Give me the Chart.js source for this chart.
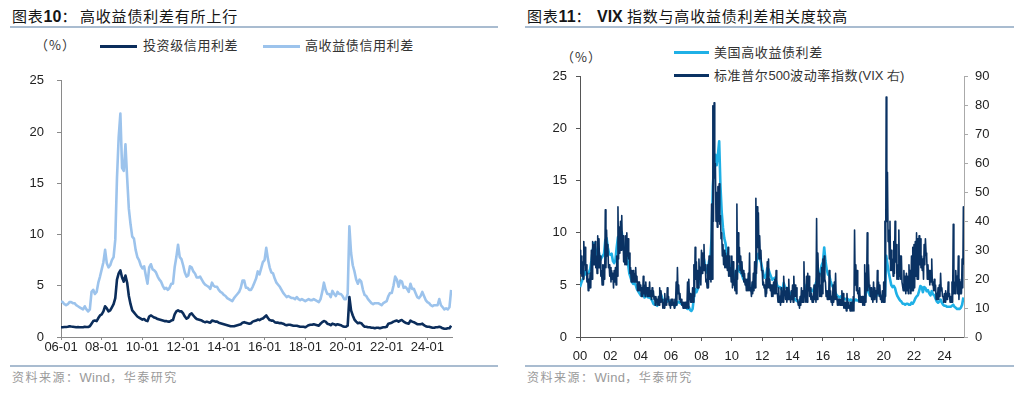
<!DOCTYPE html>
<html><head><meta charset="utf-8">
<script src="https://cdn.jsdelivr.net/npm/chart.js@4.4.1/dist/chart.umd.min.js"></script>
<style>
body{margin:0;width:1024px;height:394px;background:#fff;position:relative;overflow:hidden;font-family:"Noto Sans CJK SC","Liberation Sans",sans-serif;}
.abs{position:absolute;white-space:nowrap;}
.title{font-size:15px;color:#151515;letter-spacing:0.8px;top:6px;line-height:20px;}
.title b{font-family:"Liberation Sans",Arial,sans-serif;font-weight:bold;font-size:16px;letter-spacing:0;}
.rule{position:absolute;height:2px;background:#a9bcd0;}
.src{font-size:12px;color:#9a9a9a;top:369px;line-height:16px;letter-spacing:1.5px;}
.src span{font-family:"Liberation Sans",Arial,sans-serif;letter-spacing:0.3px;font-size:13px;}
.unit{font-size:13px;color:#333;line-height:16px;letter-spacing:1px;}
.leg{font-size:13px;color:#333;letter-spacing:0.6px;line-height:16px;}
.leg span{font-family:"Liberation Sans",Arial,sans-serif;letter-spacing:0;}
.sw{position:absolute;height:3px;}
canvas{position:absolute;}
</style></head>
<body>
<div class="abs title" style="left:12px">图表<b>10</b>：</div>
<div class="abs title" style="left:80px">高收益债利差有所上行</div>
<div class="rule" style="left:10px;top:26px;width:488px"></div>
<div class="abs title" style="left:527px">图表<b>11</b>：</div>
<div class="abs title" style="left:597px"><b>VIX</b> 指数与高收益债利差相关度较高</div>
<div class="rule" style="left:525px;top:26px;width:489px"></div>

<div class="abs unit" style="left:35px;top:37px">（%）</div>
<div class="sw" style="left:100px;top:45px;width:37px;background:#0b2d5b"></div>
<div class="abs leg" style="left:143px;top:37px">投资级信用利差</div>
<div class="sw" style="left:263px;top:45px;width:37px;background:#9cc3ec"></div>
<div class="abs leg" style="left:305px;top:37px">高收益债信用利差</div>

<div class="abs unit" style="left:561px;top:49px">（%）</div>
<div class="sw" style="left:674px;top:51px;width:35px;background:#1fb0e6"></div>
<div class="abs leg" style="left:714px;top:44px">美国高收益债利差</div>
<div class="sw" style="left:674px;top:74px;width:35px;background:#0a3263"></div>
<div class="abs leg" style="left:714px;top:67px">标准普尔<span>500</span>波动率指数<span>(VIX 右)</span></div>

<canvas id="c1" width="512" height="300" style="left:0;top:60px"></canvas>
<canvas id="c2" width="512" height="300" style="left:512px;top:60px"></canvas>

<div class="rule" style="left:10px;top:365px;width:488px"></div>
<div class="rule" style="left:525px;top:365px;width:489px"></div>
<div class="abs src" style="left:12px">资料来源：<span>Wind</span>，华泰研究</div>
<div class="abs src" style="left:527px">资料来源：<span>Wind</span>，华泰研究</div>

<script>
// ---------- Chart 10: monthly, 2006-01 .. 2025-03 ----------
const leftTickLabels = ['06-01','08-01','10-01','12-01','14-01','16-01','18-01','20-01','22-01','24-01'];
const igSpread = [
0.95,0.95,0.97,0.98,1.0,1.05,1.02,1.0,0.98,0.95,0.96,0.95,
0.95,0.95,1.0,0.98,0.98,1.05,1.3,1.55,1.6,1.55,1.85,2.1,
2.2,2.5,3.0,2.8,2.5,2.6,2.9,3.2,3.8,5.6,6.2,6.5,
5.8,5.4,6.0,5.3,4.0,3.2,2.6,2.4,2.2,2.0,1.9,1.8,
1.7,1.75,1.6,1.55,2.0,2.1,2.0,1.9,1.85,1.75,1.7,1.65,
1.6,1.55,1.55,1.5,1.5,1.6,1.65,2.2,2.5,2.6,2.5,2.5,
2.3,2.0,1.8,1.9,2.2,2.3,2.1,1.9,1.75,1.7,1.65,1.6,
1.5,1.45,1.5,1.45,1.4,1.6,1.55,1.5,1.5,1.4,1.35,1.3,
1.25,1.2,1.15,1.1,1.05,1.05,1.05,1.1,1.15,1.2,1.25,1.4,
1.45,1.4,1.35,1.3,1.35,1.5,1.55,1.6,1.7,1.65,1.75,1.8,
1.95,2.1,1.85,1.65,1.6,1.6,1.45,1.4,1.4,1.35,1.35,1.3,
1.2,1.15,1.2,1.2,1.15,1.1,1.1,1.1,1.05,1.0,1.0,1.0,
0.95,1.05,1.15,1.2,1.2,1.25,1.2,1.15,1.1,1.3,1.45,1.55,
1.5,1.3,1.25,1.15,1.3,1.25,1.15,1.25,1.2,1.15,1.05,1.0,
1.0,1.1,3.9,2.6,2.1,1.7,1.5,1.35,1.4,1.35,1.15,1.0,
1.0,0.95,0.95,0.9,0.9,0.85,0.9,0.9,0.85,0.9,0.95,0.95,
1.0,1.3,1.35,1.4,1.5,1.55,1.6,1.5,1.6,1.65,1.5,1.4,
1.35,1.3,1.6,1.5,1.45,1.35,1.25,1.25,1.25,1.3,1.15,1.05,
1.0,1.0,0.95,0.9,0.9,0.95,0.95,1.0,0.95,0.85,0.8,0.8,
0.85,0.85,1.1];
const hySpread = [
3.5,3.4,3.2,3.1,3.2,3.4,3.4,3.3,3.3,3.1,3.0,2.9,
2.8,2.7,3.0,2.7,2.5,2.7,4.4,4.6,4.2,4.4,5.3,5.9,
6.6,7.3,8.5,7.2,6.8,7.0,7.5,7.8,9.5,15.5,19.5,21.8,
16.5,16.2,18.8,15.5,12.5,11.0,9.8,9.6,8.5,7.8,7.5,7.0,
6.7,6.9,6.0,5.2,6.8,7.1,6.6,6.5,6.3,5.9,5.6,5.4,
5.0,4.7,4.8,4.6,4.8,5.2,5.2,6.8,7.8,9.0,7.8,7.6,
7.0,6.3,5.9,6.0,6.9,6.8,6.4,6.2,5.8,5.8,5.9,5.6,
5.3,5.1,5.0,4.9,4.7,5.3,5.0,4.9,4.9,4.6,4.4,4.3,
4.1,4.0,3.8,3.7,3.6,3.5,3.8,4.0,4.2,4.4,4.8,5.5,
5.5,4.8,4.8,4.6,4.6,4.9,5.3,5.7,6.4,6.1,6.7,7.3,
7.5,8.7,7.6,6.8,6.3,6.2,5.7,5.3,5.1,4.9,4.6,4.3,
4.1,3.9,4.0,3.9,3.8,3.8,3.7,3.9,3.7,3.6,3.7,3.6,
3.5,3.6,3.7,3.6,3.6,3.7,3.6,3.5,3.4,3.7,4.4,5.3,
4.6,4.2,4.2,3.9,4.5,4.2,4.0,4.4,4.2,4.2,4.0,3.7,
3.7,4.2,10.8,8.2,7.0,6.4,5.6,5.2,5.6,5.4,4.6,4.1,
4.0,3.7,3.5,3.3,3.2,3.3,3.3,3.3,3.2,3.1,3.3,3.4,
3.5,4.0,4.3,4.3,5.0,5.9,5.6,4.9,5.5,5.4,4.8,4.9,
4.7,4.4,5.2,4.7,4.7,4.3,3.9,3.8,4.0,4.4,4.0,3.6,
3.4,3.3,3.1,3.0,3.1,3.1,3.1,3.7,3.1,2.9,2.7,2.8,
2.7,2.9,4.6];

// ---------- Chart 11: monthly, 2000-01 .. 2025-04 ----------
const rightTickLabels = ['00','02','04','06','08','10','12','14','16','18','20','22','24'];
const usHySpread = [
4.8,5.2,5.5,5.9,6.3,6.0,6.1,6.2,6.5,7.3,8.3,9.0,
8.6,7.9,8.3,8.1,7.4,7.6,7.8,8.0,9.3,9.5,8.6,8.0,
7.9,8.0,7.3,7.1,7.4,8.6,9.6,9.4,9.9,10.1,9.0,8.4,
8.0,7.8,7.0,6.1,5.7,5.3,5.1,5.2,5.0,4.6,4.4,4.2,
4.0,4.1,4.1,3.8,4.1,3.9,3.8,3.8,3.7,3.5,3.2,3.1,
3.1,3.0,3.4,3.9,4.1,3.7,3.4,3.3,3.4,3.4,3.5,3.5,
3.3,3.2,3.1,3.0,3.1,3.3,3.4,3.3,3.2,3.1,3.0,2.9,
2.8,2.7,2.9,2.6,2.5,2.7,3.8,4.6,4.3,4.6,5.4,5.9,
6.6,7.0,7.5,6.6,6.2,6.5,7.3,7.5,9.5,14.5,16.5,17.5,
16.5,17.5,18.8,14.5,12.0,10.5,9.5,9.0,8.0,7.4,7.0,6.5,
6.2,6.4,5.6,5.2,6.5,6.8,6.3,6.2,6.0,5.6,5.4,5.2,
4.9,4.6,4.7,4.5,4.8,5.2,5.2,6.6,7.8,8.0,7.5,7.2,
6.6,6.0,5.7,5.8,6.6,6.5,6.1,5.8,5.5,5.6,5.7,5.3,
4.9,4.8,4.8,4.6,4.5,5.2,4.8,4.7,4.7,4.4,4.2,4.0,
3.9,3.8,3.6,3.5,3.4,3.3,3.6,3.8,4.0,4.2,4.5,5.0,
5.2,4.6,4.6,4.4,4.4,4.7,5.0,5.4,6.1,5.8,6.3,6.9,
7.2,8.6,7.3,6.5,6.0,5.9,5.4,5.0,4.8,4.5,4.2,4.0,
3.9,3.8,3.9,3.8,3.7,3.7,3.6,3.7,3.6,3.5,3.6,3.5,
3.3,3.5,3.6,3.5,3.5,3.6,3.5,3.4,3.3,3.6,4.2,5.0,
4.4,4.0,4.0,3.8,4.3,4.1,3.9,4.2,4.1,4.1,3.9,3.6,
3.6,4.0,7.8,7.0,6.2,5.6,5.0,4.8,4.9,4.7,4.2,3.9,
3.7,3.5,3.4,3.2,3.2,3.1,3.2,3.2,3.1,3.1,3.3,3.2,
3.4,3.7,3.9,4.0,4.4,4.9,4.8,4.3,4.8,4.7,4.4,4.5,
4.2,4.0,4.4,4.1,4.0,3.7,3.4,3.3,3.4,3.6,3.3,3.1,
3.0,3.0,2.9,2.9,2.9,2.9,3.0,3.1,2.9,2.8,2.7,2.7,
2.7,2.8,3.1,3.8];
// VIX monthly high / low
const vixHigh = [
30,28,26,33,31,25,22,20,22,30,33,32,
33,28,35,34,28,23,25,25,44,37,32,25,
24,23,22,23,24,28,45,38,40,42,35,31,
35,36,34,29,24,23,23,22,24,21,19,19,
18,17,21,18,19,17,17,19,16,17,16,14,
14,13,14,17,16,13,12,15,13,17,14,12,
13,13,12,13,19,24,18,15,13,12,12,12,
12,19,20,15,14,17,25,31,26,23,27,24,
30,29,32,25,20,25,28,23,46,80,81,60,
50,52,53,42,36,32,30,29,28,31,28,24,
28,26,19,23,46,36,31,28,26,23,22,20,
20,22,29,17,19,22,26,48,45,43,35,30,
23,19,18,20,26,27,20,18,18,19,20,23,
15,17,14,17,16,21,16,17,17,20,14,16,
18,21,18,17,13,12,14,17,16,26,16,21,
22,21,17,15,14,18,17,41,29,22,18,24,
27,28,19,16,16,23,16,14,18,19,22,14,
13,13,13,16,15,12,12,15,12,11,12,12,
14,37,25,23,16,17,14,14,14,25,22,36,
25,17,17,14,19,17,16,23,19,18,14,16,
19,40,83,57,37,40,30,27,33,40,32,25,
37,28,28,19,23,21,22,21,25,23,28,31,
32,33,36,34,35,34,28,27,32,34,28,25,
23,23,27,19,20,18,15,17,18,22,17,14,
15,16,15,19,15,14,19,39,19,23,21,28,
20,19,27,45];
const vixLow = [
22,21,20,25,23,19,16,17,17,20,25,25,
24,22,24,24,21,18,18,20,24,28,24,21,
19,20,17,19,18,21,27,29,30,31,26,25,
25,28,27,22,19,19,19,19,19,16,16,16,
14,14,15,14,15,14,14,14,13,14,13,11,
12,11,11,12,13,10,10,11,11,13,11,10,
11,11,10,11,11,15,13,12,11,10,10,10,
10,10,13,12,12,12,14,20,17,17,20,18,
22,23,23,19,17,17,20,19,20,40,55,40,
38,40,39,34,28,25,24,24,23,21,21,19,
17,18,16,15,20,26,23,22,21,19,18,16,
16,16,16,14,15,16,17,22,31,27,28,23,
18,17,14,15,17,17,16,14,14,15,15,15,
12,12,11,12,12,15,13,12,13,13,12,13,
12,14,14,13,11,10,11,12,12,14,12,12,
16,14,13,12,12,13,12,13,21,14,14,15,
19,20,14,13,13,13,12,11,12,13,13,11,
11,11,11,11,10,10,9,10,10,9,9,9,
9,18,16,15,12,12,12,11,11,12,16,16,
18,14,13,12,13,14,12,15,14,13,12,12,
12,14,40,33,27,23,23,21,22,26,20,20,
21,20,19,16,16,15,16,15,17,15,16,16,
17,21,20,20,25,24,23,20,25,29,20,20,
18,19,18,16,16,13,13,13,14,16,14,12,
12,13,13,14,12,12,12,15,15,18,15,13,
15,15,17,25];

// ---------- build ----------
const toPts = arr => arr.map((v, i) => ({x: i, y: v}));
const vixPts = [];
vixHigh.forEach((h, i) => { vixPts.push({x: i, y: h}); vixPts.push({x: i + 0.5, y: vixLow[i]}); });
const leftTickPos = leftTickLabels.map(l => (parseInt(l, 10) - 6) * 12);
const rightTickPos = rightTickLabels.map(l => parseInt(l, 10) * 12);

const FONT = {family: '"Liberation Sans", Arial, sans-serif', size: 13};
function axis(color, extra, tickLen) {
  return Object.assign({
    border: {display: true, color: color, width: 1},
    grid: {display: true, drawOnChartArea: false, drawTicks: true, tickLength: tickLen || 4, color: color},
  }, extra);
}
const base = {
  responsive: false, animation: false, devicePixelRatio: 1,
  plugins: {legend: {display: false}, tooltip: {enabled: false}},
  elements: {point: {radius: 0}, line: {tension: 0, borderJoinStyle: 'round'}},
};

new Chart(document.getElementById('c1'), {
  type: 'line',
  data: {datasets: [
    {data: toPts(igSpread), borderColor: '#0b2d5b', borderWidth: 2.6, fill: false},
    {data: toPts(hySpread), borderColor: '#9cc3ec', borderWidth: 2.6, fill: false},
  ]},
  options: Object.assign({}, base, {
    layout: {padding: {top: 12, right: 60, left: 0, bottom: 0}},
    scales: {
      x: axis('#8a8a8a', {type: 'linear', min: 0, max: 230.5,
        afterBuildTicks: a => { a.ticks = leftTickPos.map(v => ({value: v})); },
        afterFit: a => { a.height = 23; },
        ticks: {autoSkip: false, maxRotation: 0, padding: 0, color: '#222', font: FONT,
          callback: (v, i) => leftTickLabels[i]}}, 3),
      y: axis('#8a8a8a', {min: 0, max: 25,
        afterFit: a => { a.width = 61; },
        ticks: {stepSize: 5, padding: 13, color: '#222', font: FONT}}),
    },
  }),
});

new Chart(document.getElementById('c2'), {
  type: 'line',
  data: {datasets: [
    {data: vixPts, borderColor: '#0a3263', borderWidth: 1.6, fill: false, yAxisID: 'y1'},
    {data: toPts(usHySpread), borderColor: '#1fb0e6', borderWidth: 2.6, fill: false, yAxisID: 'y'},
  ]},
  options: Object.assign({}, base, {
    layout: {padding: {top: 12, right: 0, left: 0, bottom: 0}},
    scales: {
      x: axis('#555', {type: 'linear', min: 0, max: 303.5,
        afterBuildTicks: a => { a.ticks = rightTickPos.map(v => ({value: v})); },
        afterFit: a => { a.height = 23; },
        ticks: {autoSkip: false, maxRotation: 0, padding: 8, color: '#222', font: FONT,
          callback: (v, i) => rightTickLabels[i]}}),
      y: axis('#555', {position: 'left', min: 0, max: 25,
        afterFit: a => { a.width = 68; },
        ticks: {stepSize: 5, padding: 9, color: '#222', font: FONT}}),
      y1: axis('#aaa', {position: 'right', min: 0, max: 90,
        afterFit: a => { a.width = 60; },
        ticks: {stepSize: 10, padding: 7, color: '#222', font: FONT}}),
    },
  }),
});
</script>
</body></html>
